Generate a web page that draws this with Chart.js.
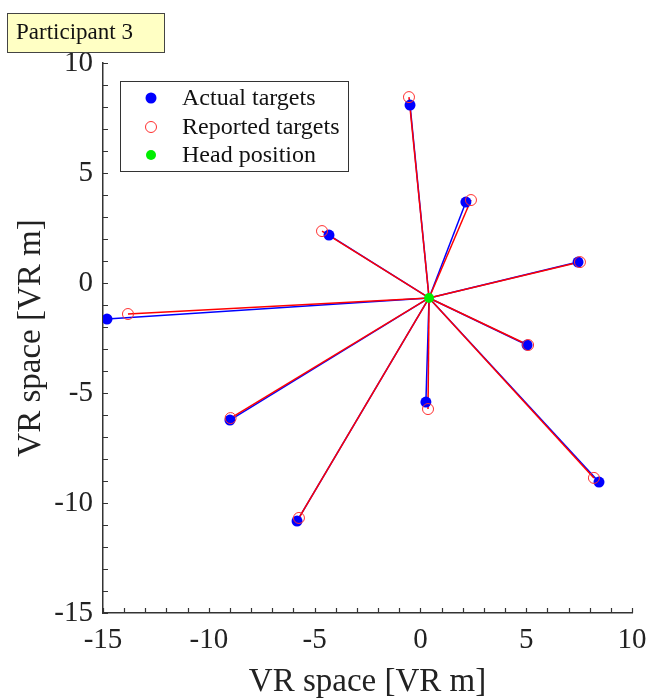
<!DOCTYPE html>
<html>
<head>
<meta charset="utf-8">
<script src="https://cdn.jsdelivr.net/npm/chart.js@4"></script>
<style>
  body { margin: 0; background: #fff; }
</style>
</head>
<body>
<canvas id="chart" width="649" height="700"></canvas>
<script>
// head position in VR space
const headX = 0.41;
const headY = -0.68;

// actual target positions
const actualX = [-0.49, 2.15, -4.32, 7.45, -14.81, 5.04, 0.26, -9.0, 8.44, -5.83];
const actualY = [8.09, 3.68, 2.18, 0.95, -1.64, -2.82, -5.41, -6.23, -9.05, -10.82];

// reported target positions
const reportedX = [-0.54, 2.39, -4.65, 7.54, -13.82, 5.09, 0.36, -8.97, 8.2, -5.74];
const reportedY = [8.45, 3.77, 2.36, 0.95, -1.41, -2.82, -5.73, -6.14, -8.86, -10.68];

const axisMin = -15;
const axisMax = 10;
const axisStep = 5;
const axisTitle = "VR space [VR m]";
const legendLabels = ["Actual targets", "Reported targets", "Head position"];
const panelTitle = "Participant 3";

const serif = "'Liberation Serif', 'Times New Roman', serif";

function toPoints(xs, ys) {
  return xs.map((x, i) => ({ x: x, y: ys[i] }));
}

function rayDatasets(xs, ys, color, order) {
  return xs.map((x, i) => ({
    data: [{ x: headX, y: headY }, { x: x, y: ys[i] }],
    showLine: true,
    borderColor: color,
    borderWidth: 1.5,
    pointRadius: 0,
    order: order,
  }));
}

const datasets = [
  ...rayDatasets(actualX, actualY, "#0000ff", 4),
  ...rayDatasets(reportedX, reportedY, "#ff0000", 3),
  {
    data: toPoints(actualX, actualY),
    pointRadius: 5.5,
    pointBackgroundColor: "#0000ff",
    pointBorderColor: "#0000ff",
    pointBorderWidth: 0,
    order: 2,
  },
  {
    data: toPoints(reportedX, reportedY),
    pointRadius: 5.5,
    pointBackgroundColor: "rgba(0,0,0,0)",
    pointBorderColor: "#ff3030",
    pointBorderWidth: 1,
    order: 1,
  },
  {
    data: [{ x: headX, y: headY }],
    pointRadius: 5,
    pointBackgroundColor: "#00ee00",
    pointBorderColor: "#00ee00",
    pointBorderWidth: 0,
    order: 0,
  },
];

// small inside ticks at every unit, like the original axes
const innerTicks = {
  id: "innerTicks",
  afterDraw(chart) {
    const ctx = chart.ctx;
    const xs = chart.scales.x;
    const ys = chart.scales.y;
    const a = chart.chartArea;
    ctx.save();
    ctx.strokeStyle = "#333";
    ctx.lineWidth = 1.2;
    ctx.beginPath();
    for (let v = axisMin; v <= axisMax; v++) {
      const px = Math.round(xs.getPixelForValue(v)) + 0.5;
      ctx.moveTo(px, a.bottom);
      ctx.lineTo(px, a.bottom - 5);
      const py = Math.round(ys.getPixelForValue(v)) + 0.5;
      ctx.moveTo(a.left, py);
      ctx.lineTo(a.left + 5, py);
    }
    ctx.stroke();
    ctx.restore();
  },
};

// legend box inside the plot and the yellow panel tag
const boxLegend = {
  id: "boxLegend",
  afterDraw(chart) {
    const ctx = chart.ctx;
    ctx.save();
    ctx.fillStyle = "#fff";
    ctx.fillRect(120, 81, 228, 90);
    ctx.strokeStyle = "#333";
    ctx.lineWidth = 1;
    ctx.strokeRect(120.5, 81.5, 228, 90);
    const rows = [98, 127, 155];
    ctx.fillStyle = "#0000ff";
    ctx.beginPath(); ctx.arc(151, rows[0], 5.5, 0, Math.PI * 2); ctx.fill();
    ctx.strokeStyle = "#ff3030";
    ctx.beginPath(); ctx.arc(151, rows[1], 5.5, 0, Math.PI * 2); ctx.stroke();
    ctx.fillStyle = "#00ee00";
    ctx.beginPath(); ctx.arc(151, rows[2], 5, 0, Math.PI * 2); ctx.fill();
    ctx.fillStyle = "#111";
    ctx.font = "24px " + serif;
    ctx.textBaseline = "middle";
    legendLabels.forEach((t, i) => ctx.fillText(t, 182, rows[i] + 1));

    // panel tag
    ctx.fillStyle = "#ffffc4";
    ctx.fillRect(7, 13, 157, 39);
    ctx.strokeStyle = "#444";
    ctx.strokeRect(7.5, 13.5, 157, 39);
    ctx.fillStyle = "#111";
    ctx.font = "23px " + serif;
    ctx.fillText(panelTitle, 16, 33);
    ctx.restore();
  },
};

function axisOptions(isX) {
  return {
    type: "linear",
    min: axisMin,
    max: axisMax,
    ticks: {
      stepSize: axisStep,
      color: "#222",
      padding: 10,
      font: { family: serif, size: 29 },
    },
    grid: { display: false, drawTicks: false },
    border: { display: true, color: "#333", width: 1.5 },
    title: {
      display: true,
      text: axisTitle,
      color: "#222",
      font: { family: serif, size: 33 },
      padding: isX ? { top: 0, bottom: -2 } : { top: 12, bottom: 0 },
    },
    afterFit(scale) {
      if (isX) {
        scale.height = 87;
        scale.paddingRight = 0;
        scale.paddingLeft = 0;
      } else {
        scale.width = 103;
        scale.paddingTop = 0;
        scale.paddingBottom = 0;
      }
    },
  };
}

new Chart(document.getElementById("chart").getContext("2d"), {
  type: "scatter",
  data: { datasets: datasets },
  options: {
    responsive: false,
    animation: false,
    layout: { padding: { top: 63, right: 17, left: 0, bottom: 0 } },
    plugins: {
      legend: { display: false },
      tooltip: { enabled: false },
    },
    scales: {
      x: axisOptions(true),
      y: axisOptions(false),
    },
  },
  plugins: [innerTicks, boxLegend],
});
</script>
</body>
</html>
